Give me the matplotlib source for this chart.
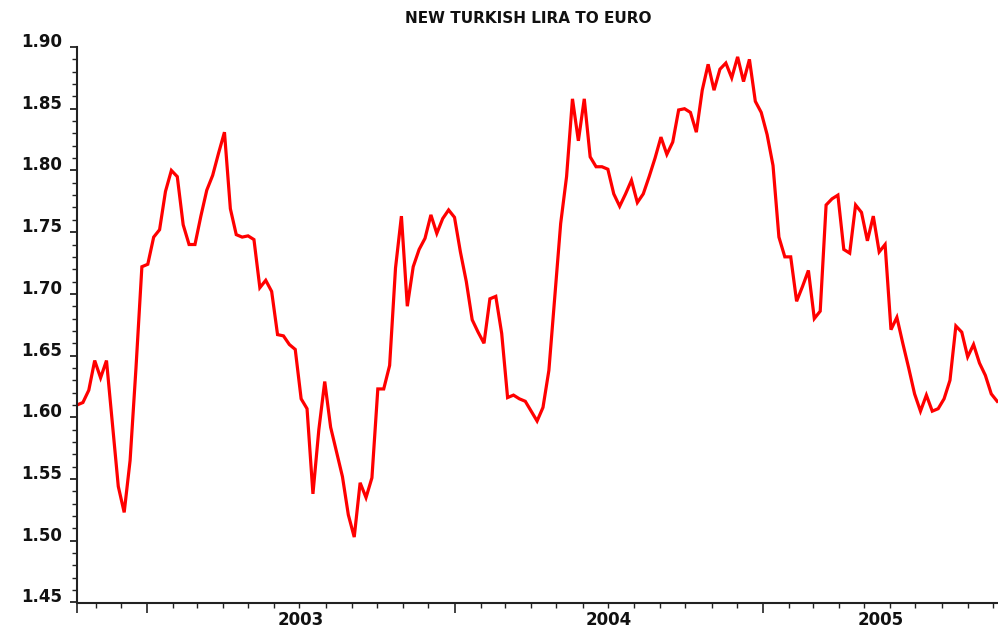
import pandas as pd
import matplotlib
matplotlib.use("Agg")
import matplotlib.pyplot as plt
import matplotlib.dates as mdates
from matplotlib.ticker import MultipleLocator, FormatStrFormatter, FixedLocator

# weekly YTL per EUR
start_date = "2002-10-10"
rates = [
    1.610, 1.612, 1.622, 1.646, 1.632, 1.646, 1.595, 1.544, 1.523, 1.565,
    1.640, 1.722, 1.724, 1.746, 1.752, 1.783, 1.800, 1.795, 1.756, 1.740,
    1.740, 1.763, 1.784, 1.796, 1.814, 1.831, 1.769, 1.748, 1.746, 1.747,
    1.744, 1.705, 1.711, 1.702, 1.667, 1.666, 1.659, 1.655, 1.615, 1.607,
    1.538, 1.590, 1.629, 1.592, 1.572, 1.552, 1.521, 1.503, 1.547, 1.535,
    1.551, 1.623, 1.623, 1.642, 1.721, 1.763, 1.690, 1.722, 1.736, 1.745,
    1.764, 1.749, 1.761, 1.768, 1.762, 1.734, 1.710, 1.679, 1.669, 1.660,
    1.696, 1.698, 1.668, 1.616, 1.618, 1.615, 1.613, 1.605, 1.597, 1.608,
    1.638, 1.698, 1.757, 1.795, 1.858, 1.824, 1.858, 1.811, 1.803, 1.803,
    1.801, 1.781, 1.771, 1.781, 1.792, 1.774, 1.781, 1.795, 1.810, 1.827,
    1.813, 1.823, 1.849, 1.850, 1.847, 1.831, 1.865, 1.886, 1.865, 1.882,
    1.887, 1.875, 1.892, 1.872, 1.890, 1.856, 1.847, 1.829, 1.804, 1.746,
    1.730, 1.730, 1.694, 1.706, 1.719, 1.680, 1.686, 1.772, 1.777, 1.780,
    1.736, 1.733, 1.772, 1.766, 1.743, 1.763, 1.734, 1.740, 1.671, 1.681,
    1.660, 1.640, 1.619, 1.605, 1.618, 1.605, 1.607, 1.615, 1.630, 1.674,
    1.669, 1.649, 1.659, 1.644, 1.634, 1.619, 1.613,
]
years = [2003, 2004, 2005]
title = "NEW TURKISH LIRA TO EURO"

dates = pd.date_range(start_date, periods=len(rates), freq="7D")

plt.rcParams["font.family"] = ["DejaVu Sans"]
plt.rcParams["font.weight"] = "bold"

fig = plt.figure(figsize=(9.98, 6.27), dpi=100)
ax = fig.add_axes([77 / 998, 1 - 602.5 / 627, 1 - 77 / 998, (602.5 - 47) / 627])

ax.plot(dates, rates, color="#ff0000", linewidth=2.3, solid_joinstyle="miter")

xmin = dates[0]
xmax = dates[-1] + pd.Timedelta(days=1)
ax.set_xlim(xmin, xmax)
ax.set_ylim(1.45, 1.90)

for side in ["top", "right"]:
    ax.spines[side].set_visible(False)
for side in ["left", "bottom"]:
    ax.spines[side].set_linewidth(1.5)
    ax.spines[side].set_color("#222222")

# y axis
ax.yaxis.set_major_locator(MultipleLocator(0.05))
ax.yaxis.set_minor_locator(MultipleLocator(0.01))
ax.yaxis.set_major_formatter(FormatStrFormatter("%.2f"))
ax.tick_params(axis="y", which="major", length=5, width=1.2, pad=6,
               labelsize=12, colors="#111111")
ax.tick_params(axis="y", which="minor", length=3.8, width=1.0, colors="#222222")
for lab in ax.get_yticklabels():
    lab.set_verticalalignment("baseline")
    lab.set_fontweight("bold")

# x axis: long ticks at the left edge and year starts, short at month starts
major_x = [mdates.date2num(xmin)] + [mdates.date2num(pd.Timestamp(f"{yr}-01-01")) for yr in years]
ax.xaxis.set_major_locator(FixedLocator(major_x))
ax.xaxis.set_minor_locator(mdates.MonthLocator())
ax.xaxis.set_major_formatter(plt.NullFormatter())
ax.tick_params(axis="x", which="major", length=7.5, width=1.2, colors="#222222")
ax.tick_params(axis="x", which="minor", length=3.8, width=1.0, colors="#222222")

# year labels centred on the visible part of each year
for yr in years:
    a = max(pd.Timestamp(f"{yr}-01-01"), xmin)
    b = min(pd.Timestamp(f"{yr + 1}-01-01"), xmax)
    mid = a + (b - a) / 2
    ax.annotate(str(yr), xy=(mdates.date2num(mid), 0),
                xycoords=("data", "axes fraction"),
                xytext=(0, -6), textcoords="offset points",
                ha="center", va="top", fontsize=12, fontweight="bold",
                color="#111111", annotation_clip=False)

fig.text(528 / 998, 1 - 18.7 / 627, title, ha="center", va="center",
         fontsize=11, fontweight="bold", color="#111111")

fig.savefig("out.png", dpi=100)
plt.close(fig)
